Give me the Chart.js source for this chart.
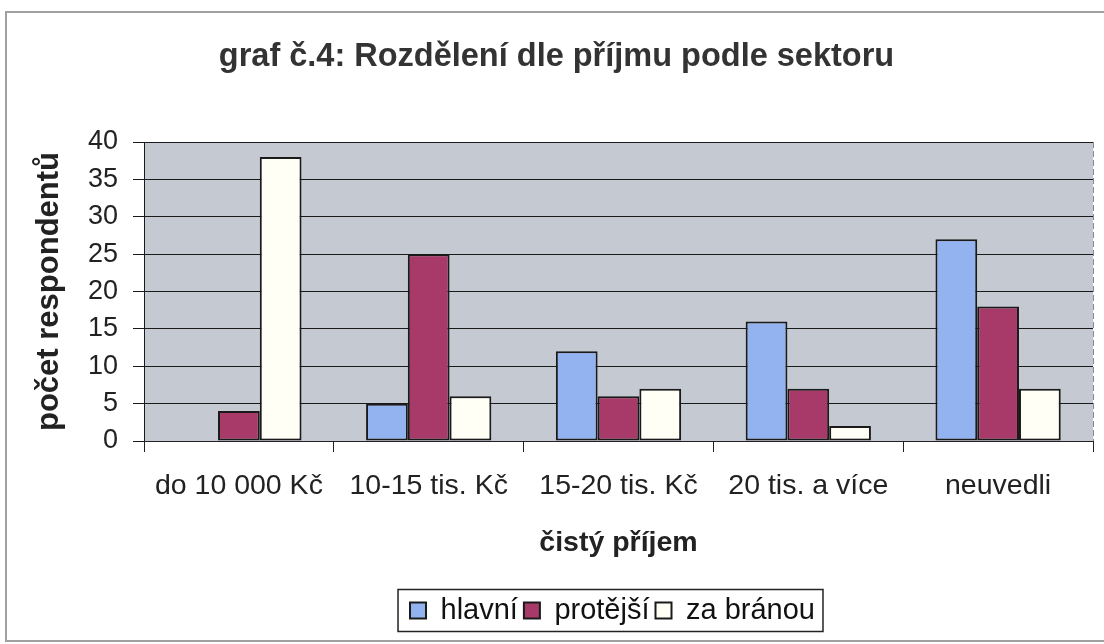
<!DOCTYPE html>
<html>
<head>
<meta charset="utf-8">
<script src="https://cdn.jsdelivr.net/npm/chart.js"></script>
<style>
  html, body { margin: 0; padding: 0; background: #fff; }
  #wrap { width: 1104px; height: 644px; }
</style>
</head>
<body>
<div id="wrap"><canvas id="graf4" width="1104" height="644"></canvas></div>
<script>
// Daten
const kategorie = ["do 10 000 Kč", "10-15 tis. Kč", "15-20 tis. Kč", "20 tis. a více", "neuvedli"];
const hlavni = [0, 5, 12, 16, 27];
const protejsi = [4, 25, 6, 7, 18];
const zaBranou = [38, 6, 7, 2, 7];
const yTicks = [0, 5, 10, 15, 20, 25, 30, 35, 40];

const pismo = "'Liberation Sans', Arial, Helvetica, sans-serif";
const posunLegendy = 56;

// Pozadí plochy, rámeček grafu a rámeček legendy
const ramecky = {
  id: 'ramecky',
  afterLayout(chart) {
    // legenda je v originálu posunutá doprava
    const l = chart.legend;
    if (l) {
      l.left += posunLegendy;
      l.right += posunLegendy;
    }
  },
  beforeDraw(chart) {
    const ctx = chart.ctx;
    const a = chart.chartArea;
    ctx.save();
    ctx.fillStyle = '#fff';
    ctx.fillRect(0, 0, chart.width, chart.height);
    ctx.fillStyle = '#c5c9d2';
    ctx.fillRect(a.left, a.top, a.right - a.left, a.bottom - a.top);
    // pravý okraj plochy
    ctx.strokeStyle = '#8a8a8a';
    ctx.lineWidth = 1;
    ctx.setLineDash([6, 3]);
    ctx.beginPath();
    ctx.moveTo(a.right + 0.5, a.top);
    ctx.lineTo(a.right + 0.5, a.bottom);
    ctx.stroke();
    ctx.setLineDash([]);
    // vnější rámeček
    ctx.strokeStyle = '#a0a0a0';
    ctx.lineWidth = 2;
    ctx.strokeRect(6, 12, 1104, 629);
    ctx.restore();
  },
  afterDraw(chart) {
    const boxes = chart.legend.legendHitBoxes;
    if (!boxes || !boxes.length) return;
    const first = boxes[0];
    const last = boxes[boxes.length - 1];
    const cy = first.top + first.height / 2;
    const ctx = chart.ctx;
    ctx.save();
    ctx.strokeStyle = '#222';
    ctx.lineWidth = 1.5;
    ctx.strokeRect(first.left - 12, cy - 21, last.left + last.width - first.left + 20, 42);
    ctx.restore();
  }
};

const ctx = document.getElementById('graf4').getContext('2d');
new Chart(ctx, {
  type: 'bar',
  data: {
    labels: kategorie,
    datasets: [
      { label: 'hlavní', data: hlavni, backgroundColor: '#93b3f0', borderColor: '#1a1a1a', borderWidth: 2 },
      { label: 'protější', data: protejsi, backgroundColor: '#a83a69', borderColor: '#1a1a1a', borderWidth: 2 },
      { label: 'za bránou', data: zaBranou, backgroundColor: '#fffff6', borderColor: '#1a1a1a', borderWidth: 2 }
    ]
  },
  options: {
    responsive: false,
    animation: false,
    datasets: { bar: { categoryPercentage: 0.66, barPercentage: 1.0, borderSkipped: false } },
    layout: { padding: { left: 20, right: 11, top: 0, bottom: 9 } },
    plugins: {
      title: {
        display: true,
        text: 'graf č.4: Rozdělení dle příjmu podle sektoru',
        color: '#333',
        font: { family: pismo, size: 32.5, weight: 'bold' },
        padding: { top: 38, bottom: 65 }
      },
      legend: {
        position: 'bottom',
        labels: {
          color: '#111',
          font: { family: pismo, size: 29 },
          boxWidth: 16,
          boxHeight: 16,
          padding: 6
        }
      },
      tooltip: { enabled: false }
    },
    scales: {
      x: {
        afterFit(scale) { scale.height = 149; },
        grid: { drawOnChartArea: false, drawTicks: true, tickLength: 11, color: '#222', offset: true },
        border: { color: '#222', width: 1 },
        ticks: {
          color: '#222',
          font: { family: pismo, size: 28.5 },
          padding: 17,
          maxRotation: 0,
          autoSkip: false
        },
        title: {
          display: true,
          text: 'čistý příjem',
          color: '#222',
          font: { family: pismo, size: 28.5, weight: 'bold' },
          padding: { top: 0, bottom: 30 }
        }
      },
      y: {
        min: 0,
        max: 40,
        afterFit(scale) { scale.width = 124; },
        afterBuildTicks(scale) { scale.ticks = yTicks.map(v => ({ value: v })); },
        grid: { color: '#1a1a1a', tickLength: 11 },
        border: { color: '#1a1a1a', width: 1 },
        ticks: {
          color: '#222',
          font: { family: pismo, size: 27 },
          padding: 15
        },
        title: {
          display: true,
          text: 'počet respondentů',
          color: '#222',
          font: { family: pismo, size: 31, weight: 'bold' },
          padding: { top: 11, bottom: 0 }
        }
      }
    }
  },
  plugins: [ramecky]
});
</script>
</body>
</html>
